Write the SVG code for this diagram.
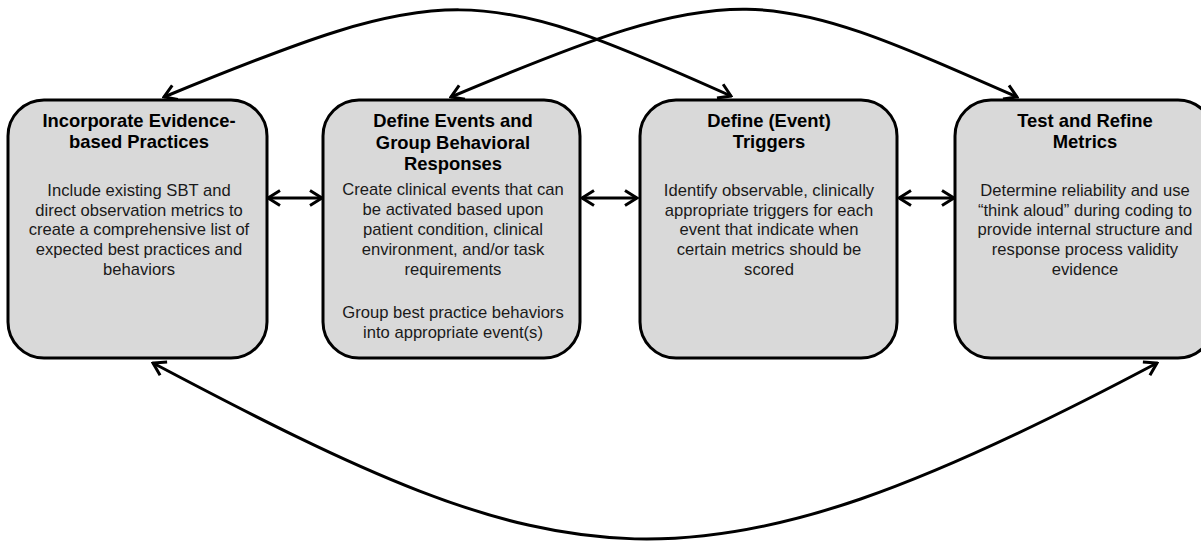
<svg xmlns="http://www.w3.org/2000/svg" width="1201" height="542" viewBox="0 0 1201 542">
  <style>
    .box { fill: #d9d9d9; stroke: #000; stroke-width: 3; }
    .title { font-family: "Liberation Sans", Arial, sans-serif; font-size: 18.4px; font-weight: bold; fill: #000; text-anchor: middle; }
    .body { font-family: "Liberation Sans", Arial, sans-serif; font-size: 16.6px; fill: #1a1a1a; text-anchor: middle; }
    .link { fill: none; stroke: #000; stroke-width: 3; marker-start: url(#head); marker-end: url(#head); }
  </style>
  <defs>
    <marker id="head" viewBox="-2 -10 16 20" refX="12" refY="0" markerWidth="16" markerHeight="20" markerUnits="userSpaceOnUse" orient="auto-start-reverse">
      <path d="M0,-7.5 L12,0 L0,7.5" fill="none" stroke="#000" stroke-width="3"/>
    </marker>
  </defs>

  <!-- connectors -->
  <g id="connectors">
    <line class="link" x1="268" y1="198" x2="322" y2="198"/>
    <line class="link" x1="582" y1="198" x2="637" y2="198"/>
    <line class="link" x1="899" y1="198" x2="954" y2="198"/>
    <path class="link" d="M164,97 C448,-20 477,-18 731,96"/>
    <path class="link" d="M451,97 C741,-25 762,-15 1017,97"/>
    <path class="link" d="M153,363 C568,583 688,612 1157,363"/>
  </g>

  <!-- step 1 -->
  <g id="node-evidence">
    <rect class="box" x="8" y="100" width="259" height="258" rx="36" ry="36"/>
    <text class="title" x="139" y="127">Incorporate Evidence-</text>
    <text class="title" x="139" y="148">based Practices</text>
    <text class="body" x="139" y="196">Include existing SBT and</text>
    <text class="body" x="139" y="215.7">direct observation metrics to</text>
    <text class="body" x="139" y="235.4">create a comprehensive list of</text>
    <text class="body" x="139" y="255.1">expected best practices and</text>
    <text class="body" x="139" y="274.8">behaviors</text>
  </g>

  <!-- step 2 -->
  <g id="node-events">
    <rect class="box" x="323" y="100" width="257" height="258" rx="36" ry="36"/>
    <text class="title" x="453" y="127">Define Events and</text>
    <text class="title" x="453" y="148.5">Group Behavioral</text>
    <text class="title" x="453" y="170">Responses</text>
    <text class="body" x="453" y="195">Create clinical events that can</text>
    <text class="body" x="453" y="215">be activated based upon</text>
    <text class="body" x="453" y="235">patient condition, clinical</text>
    <text class="body" x="453" y="255">environment, and/or task</text>
    <text class="body" x="453" y="275">requirements</text>
    <text class="body" x="453" y="318">Group best practice behaviors</text>
    <text class="body" x="453" y="338">into appropriate event(s)</text>
  </g>

  <!-- step 3 -->
  <g id="node-triggers">
    <rect class="box" x="640" y="100" width="257" height="258" rx="36" ry="36"/>
    <text class="title" x="769" y="127">Define (Event)</text>
    <text class="title" x="769" y="148">Triggers</text>
    <text class="body" x="769" y="196">Identify observable, clinically</text>
    <text class="body" x="769" y="215.7">appropriate triggers for each</text>
    <text class="body" x="769" y="235.4">event that indicate when</text>
    <text class="body" x="769" y="255.1">certain metrics should be</text>
    <text class="body" x="769" y="274.8">scored</text>
  </g>

  <!-- step 4 -->
  <g id="node-refine">
    <rect class="box" x="955" y="100" width="259" height="258" rx="36" ry="36"/>
    <text class="title" x="1085" y="127">Test and Refine</text>
    <text class="title" x="1085" y="148">Metrics</text>
    <text class="body" x="1085" y="196">Determine reliability and use</text>
    <text class="body" x="1085" y="215.7">“think aloud” during coding to</text>
    <text class="body" x="1085" y="235.4">provide internal structure and</text>
    <text class="body" x="1085" y="255.1">response process validity</text>
    <text class="body" x="1085" y="274.8">evidence</text>
  </g>
</svg>
